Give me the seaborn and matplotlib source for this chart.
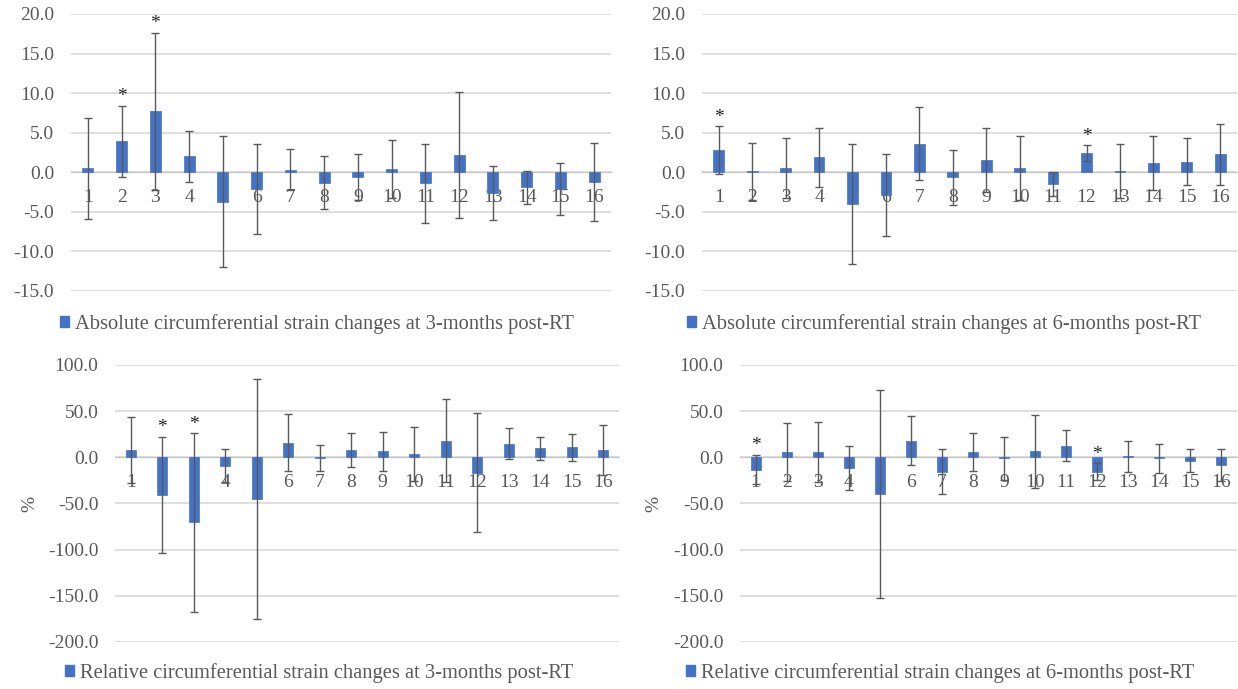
import numpy as np
import pandas as pd
import matplotlib
matplotlib.use("Agg")
import matplotlib.pyplot as plt
from matplotlib.patches import Patch
import seaborn as sns

segments = [str(i) for i in range(1, 17)]

abs3_mean = [0.5, 3.9, 7.7, 2.0, -3.7, -2.1, 0.3, -1.3, -0.6, 0.4, -1.4, 2.2, -2.6, -1.9, -2.1, -1.2]
abs3_sd = [6.4, 4.5, 9.9, 3.2, 8.3, 5.7, 2.6, 3.4, 2.9, 3.7, 5.0, 8.0, 3.4, 2.1, 3.3, 4.9]
abs3_sig = ["2", "3"]

abs6_mean = [2.8, 0.15, 0.55, 1.9, -4.0, -2.9, 3.6, -0.65, 1.5, 0.55, -1.5, 2.4, 0.2, 1.15, 1.35, 2.25]
abs6_sd = [3.0, 3.6, 3.8, 3.7, 7.6, 5.2, 4.6, 3.5, 4.05, 4.0, 1.5, 1.0, 3.4, 3.4, 3.0, 3.85]
abs6_sig = ["1", "12"]

rel3_mean = [8.0, -40.8, -70.5, -9.0, -45.2, 15.9, -0.7, 7.6, 6.5, 3.3, 18.1, -16.6, 14.8, 9.8, 10.8, 7.6]
rel3_sd = [36.0, 63.0, 96.5, 17.7, 129.8, 30.5, 14.4, 18.5, 20.8, 29.3, 45.0, 64.2, 16.8, 12.2, 14.8, 27.0]
rel3_sig = ["2", "3"]

rel6_mean = [-13.4, 5.4, 5.4, -11.2, -39.8, 18.1, -15.5, 5.4, -1.1, 6.5, 12.6, -15.5, 1.2, -1.1, -3.6, -7.8]
rel6_sd = [16.0, 31.5, 32.5, 23.8, 112.5, 26.5, 24.0, 20.6, 23.0, 39.8, 16.5, 9.0, 17.0, 15.5, 12.3, 17.3]
rel6_sig = ["1", "12"]

legend_labels = [
    "Absolute circumferential strain changes at 3-months post-RT",
    "Absolute circumferential strain changes at 6-months post-RT",
    "Relative circumferential strain changes at 3-months post-RT",
    "Relative circumferential strain changes at 6-months post-RT",
]

sns.set_style("white")
plt.rcParams["font.family"] = ["Liberation Serif", "DejaVu Serif"]
plt.rcParams["axes.unicode_minus"] = False

BAR = "#4472C4"
GRAY = "#595959"
GRID = "#d9d9d9"

W, H = 1238, 689
fig = plt.figure(figsize=(W / 100, H / 100), dpi=100)

def px_axes(x0, x1, ytop, ybot):
    return fig.add_axes([x0 / W, 1 - ybot / H, (x1 - x0) / W, (ybot - ytop) / H])

panels = [
    dict(ax=px_axes(71, 611, 14, 291), mean=abs3_mean, sd=abs3_sd, sig=abs3_sig,
         ylim=(-15, 20), step=5, ylabel=None, lab_x=None, leg=(317, 324), label=legend_labels[0]),
    dict(ax=px_axes(702, 1237, 14, 291), mean=abs6_mean, sd=abs6_sd, sig=abs6_sig,
         ylim=(-15, 20), step=5, ylabel=None, lab_x=None, leg=(944, 324), label=legend_labels[1]),
    dict(ax=px_axes(115, 619, 365, 642), mean=rel3_mean, sd=rel3_sd, sig=rel3_sig,
         ylim=(-200, 100), step=50, ylabel="%", lab_x=-0.153, leg=(319, 673), label=legend_labels[2]),
    dict(ax=px_axes(740, 1237, 365, 642), mean=rel6_mean, sd=rel6_sd, sig=rel6_sig,
         ylim=(-200, 100), step=50, ylabel="%", lab_x=-0.157, leg=(940, 673), label=legend_labels[3]),
]

for p in panels:
    ax = p["ax"]
    df = pd.DataFrame({"segment": segments, "mean": p["mean"], "sd": p["sd"]})
    sns.barplot(data=df, x="segment", y="mean", order=segments, color=BAR,
                width=0.32, errorbar=None, ax=ax, zorder=2, saturation=1,
                edgecolor=BAR, linewidth=0.5)
    xs = np.arange(len(segments))
    ax.errorbar(xs, df["mean"], yerr=df["sd"], fmt="none", ecolor=GRAY,
                elinewidth=1, capsize=3, capthick=1, zorder=3)
    for s in p["sig"]:
        i = segments.index(s)
        ax.annotate("*", (i, df["mean"][i] + df["sd"][i]), xytext=(0, 0.5),
                    textcoords="offset points", ha="center", va="bottom",
                    fontsize=14, color="#222222", zorder=4)
    lo, hi = p["ylim"]
    ax.set_ylim(lo, hi)
    ax.set_xlim(-0.5, len(segments) - 0.5)
    ax.set_yticks(np.arange(lo, hi + 0.1, p["step"]))
    ax.yaxis.set_major_formatter(matplotlib.ticker.FormatStrFormatter("%.1f"))
    ax.grid(axis="y", color=GRID, linewidth=1.2, zorder=0)
    ax.set_axisbelow(True)
    for sp in ["top", "right", "left"]:
        ax.spines[sp].set_visible(False)
    ax.spines["bottom"].set_position(("data", 0))
    ax.spines["bottom"].set_color("#c8c8c8")
    ax.spines["bottom"].set_linewidth(1.0)
    ax.spines["bottom"].set_zorder(1)
    ax.tick_params(axis="x", length=0, pad=12, labelsize=14, labelcolor=GRAY)
    ax.tick_params(axis="y", length=0, pad=12, labelsize=14, labelcolor=GRAY)
    ax.set_xlabel("")
    if p["ylabel"]:
        ax.set_ylabel(p["ylabel"], fontsize=14, color=GRAY)
        ax.yaxis.set_label_coords(p["lab_x"], 0.5)
    else:
        ax.set_ylabel("")
    lx, ly = p["leg"]
    ax.legend(handles=[Patch(facecolor=BAR, edgecolor=BAR, label=p["label"])],
              loc="center", bbox_to_anchor=(lx / W, 1 - ly / H),
              bbox_transform=fig.transFigure, frameon=False, fontsize=14.8,
              handlelength=0.45, handleheight=0.45, handletextpad=0.3,
              labelcolor=GRAY, borderpad=0)

fig.savefig("out.png", dpi=100)
